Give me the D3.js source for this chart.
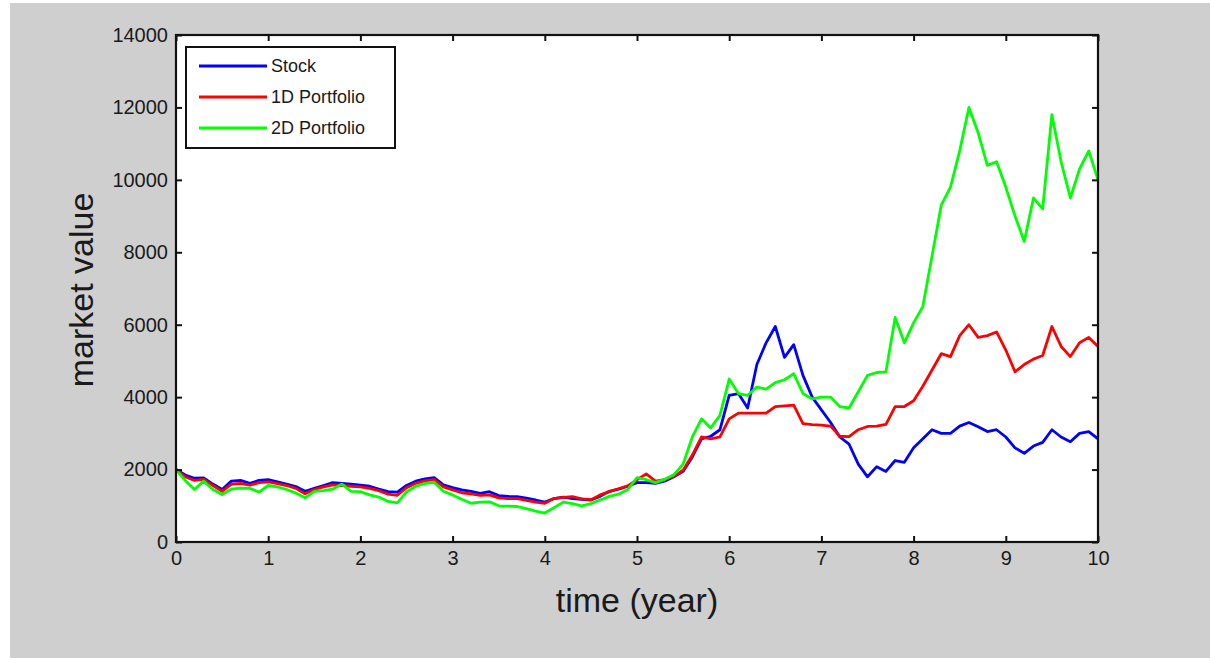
<!DOCTYPE html>
<html>
<head>
<meta charset="utf-8">
<script src="https://cdn.jsdelivr.net/npm/d3@7"></script>
<style>
  html, body { margin: 0; padding: 0; background: #ffffff; }
  svg { display: block; font-family: "Liberation Sans", Arial, sans-serif; }
</style>
</head>
<body>
<div class="canvas"></div>
<script>
// time axis (years)
var times = [0.0,0.1,0.2,0.3,0.4,0.5,0.6,0.7,0.8,0.9,
             1.0,1.1,1.2,1.3,1.4,1.5,1.6,1.7,1.8,1.9,
             2.0,2.1,2.2,2.3,2.4,2.5,2.6,2.7,2.8,2.9,
             3.0,3.1,3.2,3.3,3.4,3.5,3.6,3.7,3.8,3.9,
             4.0,4.1,4.2,4.3,4.4,4.5,4.6,4.7,4.8,4.9,
             5.0,5.1,5.2,5.3,5.4,5.5,5.6,5.7,5.8,5.9,
             6.0,6.1,6.2,6.3,6.4,6.5,6.6,6.7,6.8,6.9,
             7.0,7.1,7.2,7.3,7.4,7.5,7.6,7.7,7.8,7.9,
             8.0,8.1,8.2,8.3,8.4,8.5,8.6,8.7,8.8,8.9,
             9.0,9.1,9.2,9.3,9.4,9.5,9.6,9.7,9.8,9.9,
             10.0];

var stock = [2000,1850,1760,1770,1600,1450,1680,1700,1620,1700,
             1720,1660,1600,1530,1400,1480,1560,1640,1620,1600,
             1570,1540,1460,1390,1380,1560,1680,1740,1780,1580,
             1500,1440,1400,1340,1390,1280,1260,1250,1210,1160,
             1100,1200,1240,1200,1180,1160,1260,1400,1460,1540,
             1640,1640,1620,1680,1800,1950,2350,2850,2920,3100,
             4050,4100,3700,4900,5500,5950,5100,5450,4600,4000,
             3650,3300,2900,2700,2150,1800,2080,1950,2250,2200,
             2600,2850,3100,3000,3000,3200,3300,3180,3050,3100,
             2900,2600,2450,2650,2750,3100,2900,2770,3000,3050,
             2850];

var portfolio1D = [2000,1800,1700,1730,1560,1400,1600,1620,1570,1640,
                   1660,1610,1560,1480,1330,1450,1520,1580,1560,1540,
                   1520,1480,1420,1320,1290,1500,1620,1690,1720,1520,
                   1440,1360,1330,1290,1300,1220,1200,1200,1150,1100,
                   1070,1200,1230,1250,1190,1170,1300,1390,1470,1550,
                   1720,1880,1680,1720,1820,1980,2400,2900,2850,2900,
                   3400,3560,3560,3560,3560,3740,3760,3780,3270,3240,
                   3230,3200,2920,2910,3100,3190,3200,3250,3740,3740,
                   3900,4300,4750,5200,5120,5700,6000,5650,5700,5800,
                   5300,4700,4900,5050,5150,5950,5400,5120,5500,5650,
                   5400];

var portfolio2D = [2000,1700,1450,1680,1450,1310,1460,1490,1480,1380,
                   1560,1520,1450,1350,1220,1400,1420,1460,1600,1400,
                   1390,1300,1240,1120,1080,1380,1540,1620,1650,1400,
                   1300,1180,1070,1100,1110,1000,990,980,920,850,
                   800,950,1100,1060,1000,1060,1160,1260,1320,1450,
                   1780,1720,1640,1730,1860,2150,2900,3400,3150,3500,
                   4500,4100,4050,4280,4220,4400,4480,4650,4100,3950,
                   4000,4000,3740,3700,4150,4600,4680,4700,6200,5500,
                   6050,6500,7900,9300,9800,10800,12000,11300,10400,10500,
                   9800,9000,8300,9500,9200,11800,10500,9500,10300,10800,
                   10000];

var seriesNames = ['Stock', '1D Portfolio', '2D Portfolio'];
var seriesColors = ['#0000ff', '#ff0000', '#00ff00'];
var xTicks = [0,1,2,3,4,5,6,7,8,9,10];
var yTicks = [0,2000,4000,6000,8000,10000,12000,14000];

const width = 1210, height = 658;
const margin = {top: 35, right: 112, bottom: 116, left: 176};
const graphWidth = width - margin.left - margin.right;
const graphHeight = height - margin.top - margin.bottom;

const svg = d3.select('.canvas')
    .append('svg')
    .attr('width', width)
    .attr('height', height);

// grey figure background
svg.append('rect')
    .attr('x', 10).attr('y', 3)
    .attr('width', width - 10).attr('height', height - 3)
    .attr('fill', '#cfcfcf');

const graph = svg.append('g')
    .attr('transform', `translate(${margin.left}, ${margin.top})`);

graph.append('rect')
    .attr('width', graphWidth)
    .attr('height', graphHeight)
    .attr('fill', '#ffffff');

// scales
const x = d3.scaleLinear().domain([0, 10]).range([0, graphWidth]);
const y = d3.scaleLinear().domain([0, 14000]).range([graphHeight, 0]);

// lines
const data = [stock, portfolio1D, portfolio2D];
const line = d3.line()
    .x((d, i) => x(times[i]))
    .y(d => y(d));

graph.selectAll('path.series')
    .data(data)
    .enter().append('path')
    .attr('class', 'series')
    .attr('fill', 'none')
    .attr('stroke', (d, i) => seriesColors[i])
    .attr('stroke-width', 2.8)
    .attr('stroke-linejoin', 'round')
    .attr('d', line);

// axes, ticks pointing inward like matlab
const xAxis = d3.axisBottom(x).tickValues(xTicks).tickSizeInner(-6).tickSizeOuter(0).tickPadding(9).tickFormat(d3.format('d'));
const yAxis = d3.axisLeft(y).tickValues(yTicks).tickSizeInner(-6).tickSizeOuter(0).tickPadding(8).tickFormat(d3.format('d'));
const xAxisTop = d3.axisTop(x).tickValues(xTicks).tickSizeInner(-6).tickSizeOuter(0).tickFormat('');
const yAxisRight = d3.axisRight(y).tickValues(yTicks).tickSizeInner(-6).tickSizeOuter(0).tickFormat('');

const xAxisGroup = graph.append('g').attr('transform', `translate(0, ${graphHeight})`).call(xAxis);
const yAxisGroup = graph.append('g').call(yAxis);
const xTopGroup = graph.append('g').call(xAxisTop);
const yRightGroup = graph.append('g').attr('transform', `translate(${graphWidth}, 0)`).call(yAxisRight);

[xAxisGroup, yAxisGroup, xTopGroup, yRightGroup].forEach(g => {
    g.select('.domain').remove();
    g.selectAll('line').attr('stroke', '#111').attr('stroke-width', 2);
    g.selectAll('text').attr('fill', '#1a1a1a').style('font-size', '20px');
});

// frame
graph.append('rect')
    .attr('width', graphWidth)
    .attr('height', graphHeight)
    .attr('fill', 'none')
    .attr('stroke', '#111')
    .attr('stroke-width', 2.2);

// axis labels
svg.append('text')
    .attr('x', margin.left + graphWidth / 2)
    .attr('y', 612)
    .attr('text-anchor', 'middle')
    .attr('fill', '#1a1a1a')
    .style('font-size', '34px')
    .text('time (year)');

svg.append('text')
    .attr('transform', 'translate(93, 290) rotate(-90)')
    .attr('text-anchor', 'middle')
    .attr('fill', '#1a1a1a')
    .style('font-size', '34px')
    .text('market value');

// legend
const legend = svg.append('g').attr('transform', 'translate(186, 47)');
legend.append('rect')
    .attr('width', 209)
    .attr('height', 101)
    .attr('fill', '#ffffff')
    .attr('stroke', '#111')
    .attr('stroke-width', 2);

const legendItems = legend.selectAll('g.item')
    .data(seriesNames)
    .enter().append('g')
    .attr('class', 'item')
    .attr('transform', (d, i) => `translate(0, ${19 + i * 31})`);

legendItems.append('line')
    .attr('x1', 13).attr('x2', 81)
    .attr('y1', 0).attr('y2', 0)
    .attr('stroke', (d, i) => seriesColors[i])
    .attr('stroke-width', 2.8);

legendItems.append('text')
    .attr('x', 85)
    .attr('y', 0)
    .attr('dy', '0.36em')
    .attr('fill', '#1a1a1a')
    .style('font-size', '18px')
    .text(d => d);
</script>
</body>
</html>
